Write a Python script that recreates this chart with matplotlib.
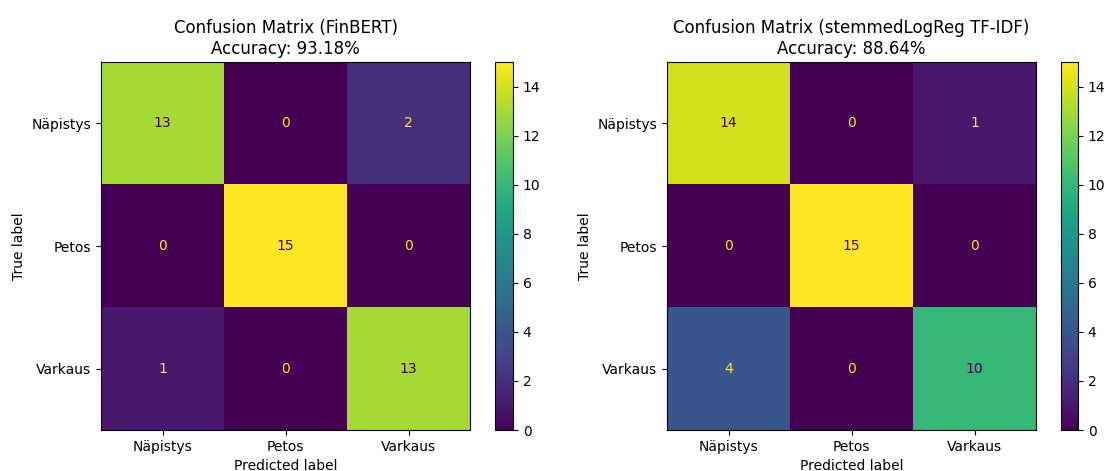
import matplotlib
matplotlib.use("Agg")
import matplotlib.pyplot as plt
import numpy as np

labels = ["Näpistys", "Petos", "Varkaus"]
cm_finbert = [[13, 0, 2], [0, 15, 0], [1, 0, 13]]
cm_logreg = [[14, 0, 1], [0, 15, 0], [4, 0, 10]]
titles = ["Confusion Matrix (FinBERT)\nAccuracy: 93.18%",
          "Confusion Matrix (stemmedLogReg TF-IDF)\nAccuracy: 88.64%"]

W, H = 1105, 471
fig = plt.figure(figsize=(W / 100, H / 100), dpi=100)

def px(x0, y0, x1, y1):
    return [x0 / W, (H - y1) / H, (x1 - x0) / W, (y1 - y0) / H]

layout = [((101, 62, 470, 430), (495, 62, 513, 430)),
          ((667, 62, 1036, 430), (1061, 62, 1078, 430))]

cmap = plt.get_cmap("viridis")
for cm, title, (axr, cbr) in zip([cm_finbert, cm_logreg], titles, layout):
    ax = fig.add_axes(px(*axr))
    cax = fig.add_axes(px(*cbr))
    cmv = np.array(cm)
    im = ax.imshow(cmv, interpolation="nearest", cmap=cmap, aspect="auto")
    vmin, vmax = cmv.min(), cmv.max()
    thresh = (vmax + vmin) / 2.0
    for i in range(cmv.shape[0]):
        for j in range(cmv.shape[1]):
            color = cmap(0) if cmv[i, j] >= thresh else cmap(256)
            ax.text(j, i, str(cmv[i, j]), ha="center", va="center", color=color)
    fig.colorbar(im, cax=cax)
    ax.set_xticks(range(len(labels)))
    ax.set_xticklabels(labels)
    ax.set_yticks(range(len(labels)))
    ax.set_yticklabels(labels)
    ax.set_xlabel("Predicted label")
    ax.set_ylabel("True label")
    ax.set_title(title, fontsize=12)

fig.savefig("out.png", dpi=100)
